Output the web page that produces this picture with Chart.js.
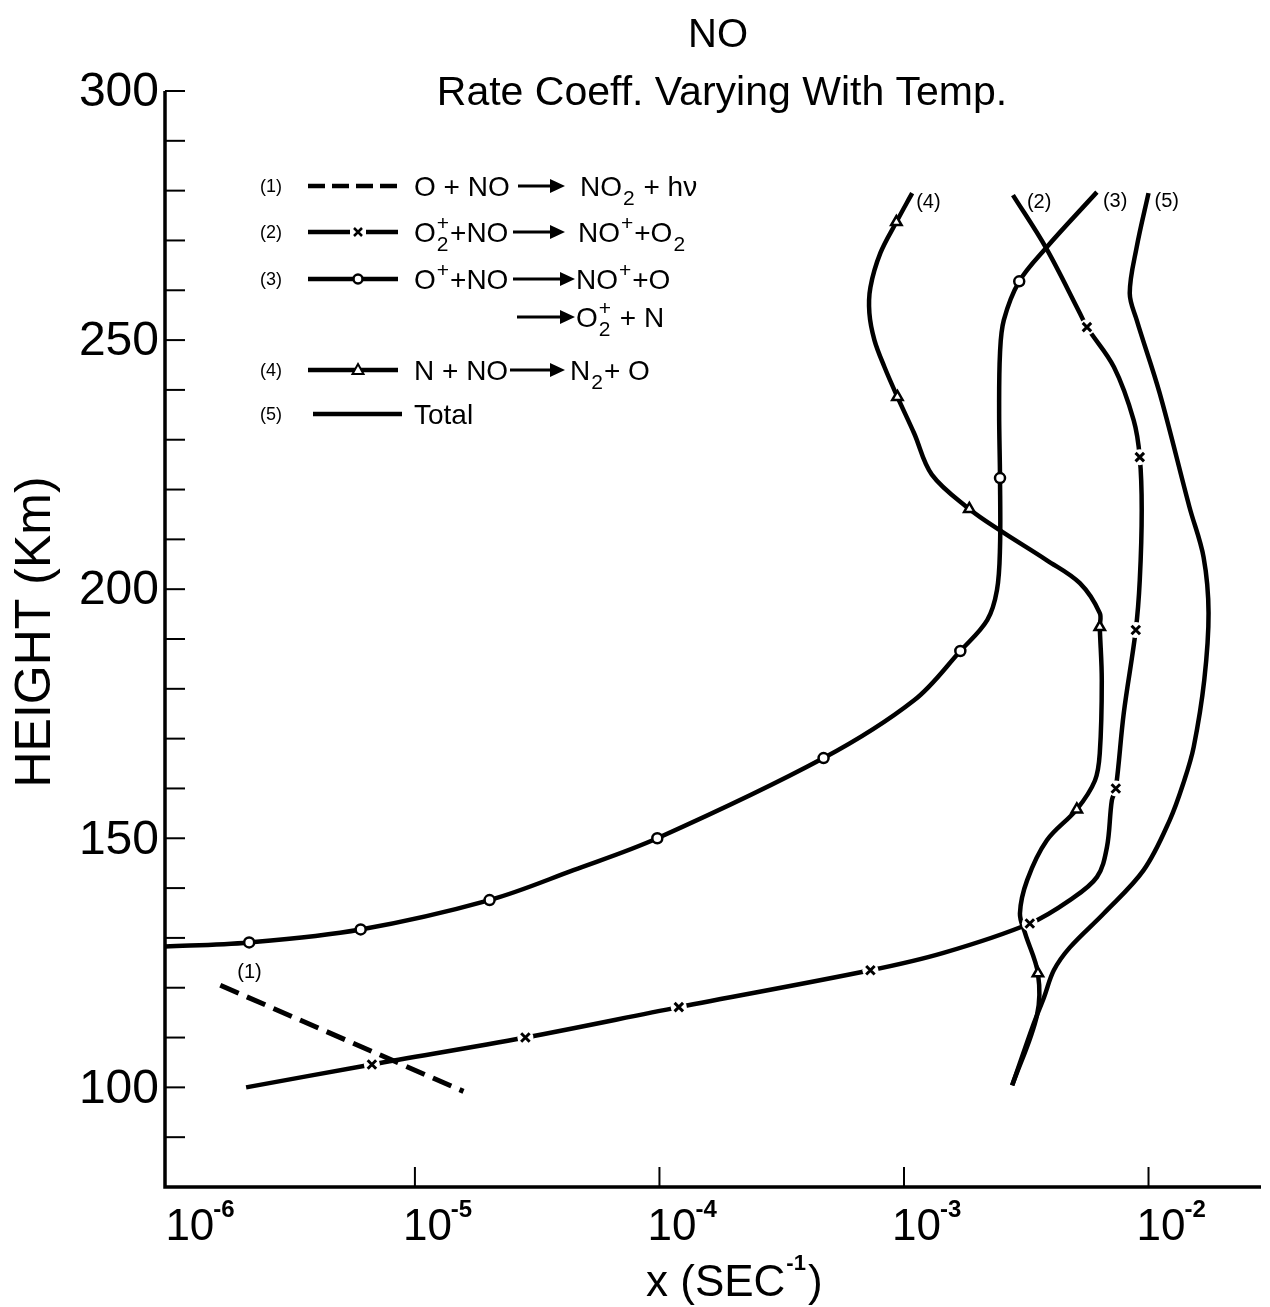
<!DOCTYPE html>
<html>
<head>
<meta charset="utf-8">
<script src="https://cdn.jsdelivr.net/npm/chart.js@4.4.0/dist/chart.umd.min.js"></script>
<style>html,body{margin:0;padding:0;background:#fff}canvas{display:block}</style>
</head>
<body>
<canvas id="chart" width="1270" height="1307"></canvas>
<script>
// axis ticks
const heightLabels = [300, 250, 200, 150, 100];
const heightTicks = [90, 100, 110, 120, 130, 140, 150, 160, 170, 180, 190, 200, 210, 220, 230, 240, 250, 260, 270, 280, 290, 300];
const decadeTicks = [1e-6, 1e-5, 1e-4, 1e-3, 1e-2];
const decadeExp = ['-6', '-5', '-4', '-3', '-2'];

// (1) O + NO -> NO2 + hv
const r1X = [1.6e-6, 1.58e-5];
const r1H = [120.5, 99.2];

// (2) O2+ + NO
const r2X = [2.04e-6, 6.67e-6, 2.83e-5, 1.20e-4, 7.29e-4, 1.45e-3, 3.27e-3, 4.77e-3, 6.15e-3, 6.76e-3, 7.08e-3, 7.35e-3, 7.92e-3, 8.87e-3, 9.21e-3, 9.38e-3, 9.21e-3, 8.70e-3, 7.22e-3, 5.60e-3, 5.24e-3, 3.81e-3, 2.79e-3];
const r2H = [100, 104.6, 110.0, 116.1, 123.5, 127.0, 132.9, 137.6, 142.2, 148.2, 157.6, 160.0, 175.1, 191.8, 201.8, 215.9, 226.5, 233.9, 244.6, 252.6, 255.4, 268.5, 279.1];
const m2X = [6.67e-6, 2.83e-5, 1.20e-4, 7.29e-4, 3.27e-3, 7.35e-3, 8.87e-3, 9.21e-3, 5.60e-3];
const m2H = [104.6, 110.0, 116.1, 123.5, 132.9, 160.0, 191.8, 226.5, 252.6];

// (3) O+ + NO
const r3X = [9.0e-7, 2.1e-6, 6.0e-6, 2.02e-5, 4.45e-5, 9.8e-5, 4.69e-4, 1.10e-3, 1.70e-3, 2.19e-3, 2.40e-3, 2.47e-3, 2.47e-3, 2.45e-3, 2.47e-3, 2.56e-3, 2.96e-3, 3.81e-3, 6.15e-3];
const r3H = [128.2, 129.1, 131.7, 137.6, 143.6, 150.0, 166.1, 177.7, 187.6, 193.8, 199.8, 208.4, 222.3, 235.3, 247.4, 254.0, 261.8, 268.5, 279.7];
const m3X = [2.1e-6, 6.0e-6, 2.02e-5, 9.8e-5, 4.69e-4, 1.70e-3, 2.47e-3, 2.96e-3];
const m3H = [129.1, 131.7, 137.6, 150.0, 166.1, 187.6, 222.3, 261.8];

// (4) N + NO
const r4X = [1.08e-3, 9.31e-4, 8.01e-4, 7.29e-4, 7.22e-4, 7.57e-4, 8.32e-4, 9.40e-4, 1.10e-3, 1.30e-3, 1.85e-3, 2.47e-3, 3.84e-3, 5.24e-3, 6.32e-3, 6.32e-3, 6.44e-3, 6.32e-3, 6.04e-3, 5.09e-3, 3.84e-3, 3.19e-3, 2.98e-3, 3.13e-3, 3.53e-3, 3.50e-3, 2.77e-3];
const r4H = [279.5, 273.7, 267.5, 260.6, 255.4, 250.0, 244.6, 238.6, 231.3, 223.0, 216.1, 211.8, 205.8, 201.2, 195.2, 192.4, 181.7, 167.1, 161.6, 155.8, 149.6, 141.6, 134.9, 130.9, 122.9, 114.5, 100.4];
const m4X = [9.31e-4, 9.40e-4, 1.85e-3, 6.32e-3, 5.09e-3, 3.53e-3];
const m4H = [273.7, 238.6, 216.1, 192.4, 155.8, 122.9];

// (5) Total
const r5X = [1.00e-2, 8.95e-3, 8.38e-3, 8.95e-3, 1.11e-2, 1.47e-2, 1.68e-2, 1.76e-2, 1.69e-2, 1.53e-2, 1.40e-2, 1.22e-2, 9.55e-3, 6.56e-3, 4.77e-3, 4.10e-3, 3.74e-3, 3.40e-3, 2.77e-3];
const r5H = [279.5, 268.7, 259.4, 254.0, 239.4, 216.5, 206.4, 195.2, 181.7, 168.3, 161.6, 153.6, 143.6, 134.9, 128.1, 123.5, 118.1, 112.9, 100.4];

const F = '"Liberation Sans", Arial, sans-serif';

function pts(xs, hs) { return xs.map((v, i) => ({x: v, y: hs[i]})); }

function curve(xs, hs, extra) {
  return Object.assign({
    data: pts(xs, hs), showLine: true, borderColor: '#000', borderWidth: 4.5,
    pointRadius: 0, pointHoverRadius: 0, tension: 0.35, fill: false, order: 3
  }, extra || {});
}
function marks(xs, hs, style, radius, bg, bw) {
  return {
    data: pts(xs, hs), showLine: false, pointStyle: style, pointRadius: radius,
    pointHoverRadius: radius, pointBackgroundColor: bg, pointBorderColor: '#000',
    pointBorderWidth: bw, order: 1
  };
}

// draws text with sub/superscripts, y = baseline
function rich(ctx, x, y, parts, size) {
  ctx.textAlign = 'left';
  ctx.textBaseline = 'alphabetic';
  for (const p of parts) {
    if (p.sub !== undefined || p.sup !== undefined) {
      ctx.font = `${Math.round(size * 0.75)}px ${F}`;
      let w = 0;
      if (p.sup) { ctx.fillText(p.sup, x + 1, y - size * 0.42); w = Math.max(w, ctx.measureText(p.sup).width); }
      if (p.sub) { ctx.fillText(p.sub, x + 1, y + size * 0.32); w = Math.max(w, ctx.measureText(p.sub).width); }
      x += w + 2;
    } else {
      ctx.font = `${size}px ${F}`;
      ctx.fillText(p.t, x, y);
      x += ctx.measureText(p.t).width;
    }
  }
}
function arrow(ctx, x1, x2, y) {
  ctx.save();
  ctx.lineWidth = 3;
  ctx.beginPath(); ctx.moveTo(x1, y); ctx.lineTo(x2 - 10, y); ctx.stroke();
  ctx.beginPath(); ctx.moveTo(x2, y); ctx.lineTo(x2 - 15, y - 7); ctx.lineTo(x2 - 15, y + 7); ctx.closePath(); ctx.fill();
  ctx.restore();
}

const legendRows = [
  {y: 186, label: '(1)', sample: 'dash', left: [{t: 'O + NO'}], arrow: [518, 565], rx: 580, right: [{t: 'NO'}, {sub: '2'}, {t: ' + hν'}]},
  {y: 232, label: '(2)', sample: 'cross', left: [{t: 'O'}, {sup: '+', sub: '2'}, {t: '+NO'}], arrow: [513, 565], rx: 578, right: [{t: 'NO'}, {sup: '+'}, {t: '+O'}, {sub: '2'}]},
  {y: 279, label: '(3)', sample: 'circle', left: [{t: 'O'}, {sup: '+'}, {t: '+NO'}], arrow: [513, 575], rx: 576, right: [{t: 'NO'}, {sup: '+'}, {t: '+O'}]},
  {y: 317, arrow: [517, 575], rx: 576, right: [{t: 'O'}, {sup: '+', sub: '2'}, {t: ' + N'}]},
  {y: 370, label: '(4)', sample: 'triangle', left: [{t: 'N + NO'}], arrow: [510, 565], rx: 570, right: [{t: 'N'}, {sub: '2'}, {t: '+ O'}]},
  {y: 414, label: '(5)', sample: 'solid', left: [{t: 'Total'}]}
];

const decor = {
  id: 'decor',
  beforeDraw(chart) {
    const c = chart.ctx;
    c.save(); c.fillStyle = '#fff'; c.fillRect(0, 0, chart.width, chart.height); c.restore();
  },
  afterDraw(chart) {
    const c = chart.ctx, a = chart.chartArea, x = chart.scales.x, y = chart.scales.y;
    c.save();
    c.strokeStyle = '#000'; c.fillStyle = '#000'; c.lineCap = 'butt';
    // axes
    c.lineWidth = 3.5;
    c.beginPath();
    c.moveTo(a.left, y.getPixelForValue(300)); c.lineTo(a.left, a.bottom); c.lineTo(a.right, a.bottom);
    c.stroke();
    c.lineWidth = 2;
    heightTicks.forEach(h => {
      const py = y.getPixelForValue(h);
      c.beginPath(); c.moveTo(a.left, py); c.lineTo(a.left + 20, py); c.stroke();
    });
    decadeTicks.forEach(v => {
      if (v <= 1e-6) return;
      const px = x.getPixelForValue(v);
      c.beginPath(); c.moveTo(px, a.bottom); c.lineTo(px, a.bottom - 20); c.stroke();
    });
    // tick labels
    c.font = `48px ${F}`; c.textAlign = 'right'; c.textBaseline = 'middle';
    heightLabels.forEach(h => c.fillText(String(h), a.left - 6, y.getPixelForValue(h) + 2));
    decadeTicks.forEach((v, i) => {
      const px = x.getPixelForValue(v) - (i === 0 ? 5 : 12);
      c.textAlign = 'left'; c.textBaseline = 'alphabetic';
      c.font = `44px ${F}`;
      c.fillText('10', px, 1240);
      const w = c.measureText('10').width;
      c.font = `bold 24px ${F}`;
      c.fillText(decadeExp[i], px + w - 1, 1217);
    });
    // titles
    c.textAlign = 'center'; c.textBaseline = 'middle';
    c.font = `40px ${F}`;
    c.fillText('NO', 718, 36);
    c.font = `41px ${F}`;
    c.fillText('Rate Coeff. Varying With Temp.', 722, 94);
    c.save();
    c.translate(36, 632); c.rotate(-Math.PI / 2);
    c.font = `50px ${F}`;
    c.fillText('HEIGHT (Km)', 0, 0);
    c.restore();
    c.font = `44px ${F}`;
    c.textAlign = 'left'; c.textBaseline = 'alphabetic';
    let tx = 646;
    c.fillText('x (SEC', tx, 1296); tx += c.measureText('x (SEC').width;
    c.font = `bold 22px ${F}`;
    c.fillText('-1', tx + 1, 1270); tx += c.measureText('-1').width + 3;
    c.font = `44px ${F}`;
    c.fillText(')', tx, 1296);
    // curve labels
    c.font = `20px ${F}`; c.textBaseline = 'middle'; c.textAlign = 'left';
    const tops = [[r1X[0], r1H[0], 17, -13, '(1)'], [r2X[r2X.length - 1], r2H[r2H.length - 1], 14, 7, '(2)'],
      [r3X[r3X.length - 1], r3H[r3H.length - 1], 6, 9, '(3)'], [r4X[0], r4H[0], 4, 9, '(4)'], [r5X[0], r5H[0], 6, 8, '(5)']];
    tops.forEach(t => c.fillText(t[4], x.getPixelForValue(t[0]) + t[2], y.getPixelForValue(t[1]) + t[3]));
    // legend
    legendRows.forEach(r => {
      if (r.label) {
        c.font = `18px ${F}`; c.textAlign = 'left'; c.textBaseline = 'middle';
        c.fillText(r.label, 260, r.y + 1);
      }
      if (r.sample) {
        const x1 = r.sample === 'solid' ? 313 : 308, x2 = r.sample === 'solid' ? 402 : 398;
        c.lineWidth = 4.5;
        c.setLineDash(r.sample === 'dash' ? [17, 7] : []);
        c.beginPath(); c.moveTo(x1, r.y); c.lineTo(x2, r.y); c.stroke();
        c.setLineDash([]);
        const mx = 358;
        if (r.sample === 'cross') {
          c.fillStyle = '#fff'; c.fillRect(mx - 8, r.y - 5, 16, 10); c.fillStyle = '#000';
          c.lineWidth = 2.5;
          c.beginPath(); c.moveTo(mx - 4, r.y - 4); c.lineTo(mx + 4, r.y + 4); c.moveTo(mx + 4, r.y - 4); c.lineTo(mx - 4, r.y + 4); c.stroke();
        } else if (r.sample === 'circle') {
          c.lineWidth = 2.5; c.fillStyle = '#fff';
          c.beginPath(); c.arc(mx, r.y, 4.5, 0, Math.PI * 2); c.fill(); c.stroke(); c.fillStyle = '#000';
        } else if (r.sample === 'triangle') {
          c.lineWidth = 2; c.fillStyle = '#fff';
          c.beginPath(); c.moveTo(mx, r.y - 6); c.lineTo(mx + 5.5, r.y + 4); c.lineTo(mx - 5.5, r.y + 4); c.closePath(); c.fill(); c.stroke(); c.fillStyle = '#000';
        }
      }
      if (r.left) rich(c, 414, r.y + 10, r.left, 28);
      if (r.arrow) arrow(c, r.arrow[0], r.arrow[1], r.y);
      if (r.right) rich(c, r.rx, r.y + 10, r.right, 28);
    });
    c.restore();
  }
};

new Chart(document.getElementById('chart'), {
  type: 'scatter',
  data: {
    datasets: [
      curve(r1X, r1H, {borderDash: [20, 9], tension: 0, borderWidth: 5}),
      curve(r2X, r2H),
      curve(r3X, r3H),
      curve(r4X, r4H),
      curve(r5X, r5H),
      Object.assign(marks(m2X, m2H, 'circle', 8, '#fff', 0), {order: 2}),
      marks(m2X, m2H, 'crossRot', 6, '#000', 3),
      marks(m3X, m3H, 'circle', 5, '#fff', 2.5),
      marks(m4X, m4H, 'triangle', 6, '#fff', 2.5)
    ]
  },
  options: {
    responsive: false,
    animation: false,
    devicePixelRatio: 1,
    layout: {padding: {left: 165, right: 5, top: 91, bottom: 120}},
    plugins: {legend: {display: false}, tooltip: {enabled: false}, title: {display: false}},
    scales: {
      x: {type: 'logarithmic', min: Math.pow(10, -6.022), max: Math.pow(10, -1.54), display: false},
      y: {type: 'linear', min: 80, max: 300, display: false}
    }
  },
  plugins: [decor]
});
</script>
</body>
</html>
